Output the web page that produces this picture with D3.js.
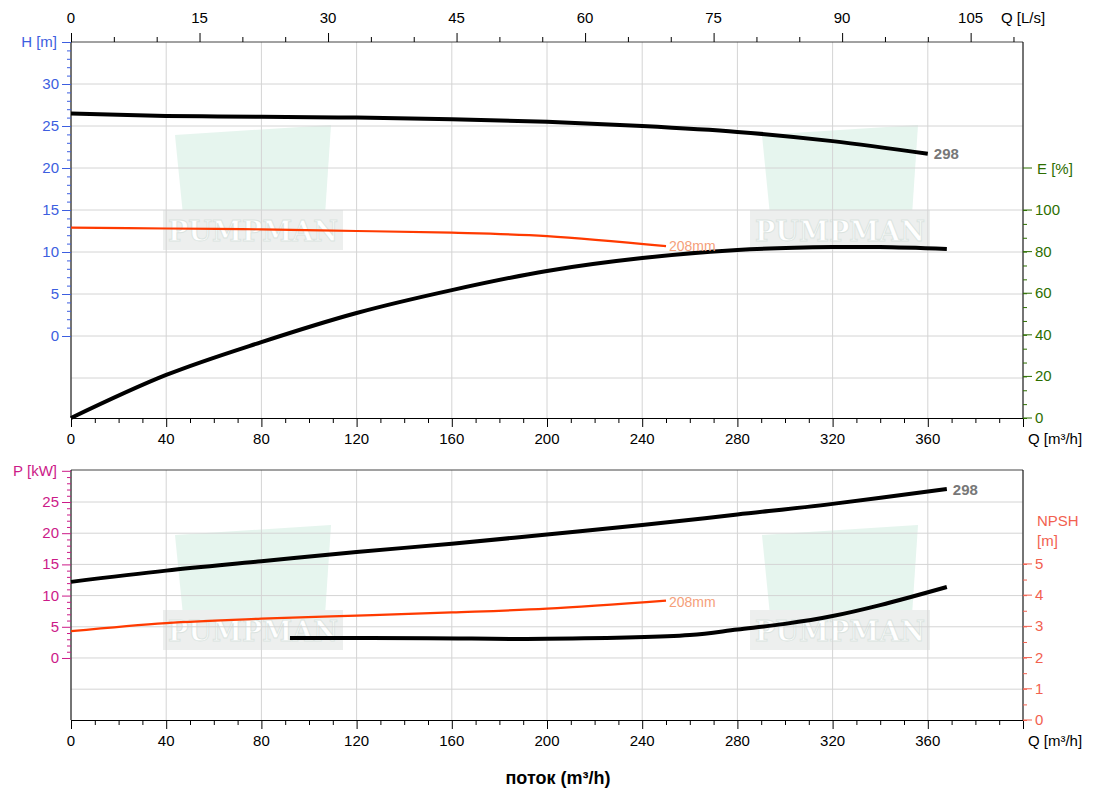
<!DOCTYPE html>
<html><head><meta charset="utf-8">
<script src="https://cdn.jsdelivr.net/npm/d3@7"></script>
<style>body{margin:0;background:#fff;font-family:Arial,"Liberation Sans",sans-serif}</style>
</head><body><svg id="c" width="1100" height="800"></svg>
<script>
const hQ=[0,40,80,120,160,200,240,280,320,360];
const h298=[26.5,26.2,26.1,26.0,25.8,25.5,25.0,24.3,23.2,21.7];
const h208Q=[0,40,80,120,160,200,250];
const h208=[12.9,12.8,12.7,12.5,12.3,11.9,10.7];
const effQ=[0,40,80,120,160,200,240,280,320,340,368];
const eff=[0,20.7,36.5,50.5,61.5,70.7,76.9,80.8,82.2,82.2,81.3];
const pQ=[0,40,80,120,160,200,240,280,320,368];
const p298=[12.2,14,15.5,17,18.3,19.8,21.3,23,24.7,27.1];
const p208Q=[0,40,80,120,160,200,250];
const p208=[4.3,5.6,6.3,6.8,7.3,7.9,9.2];
const npQ=[92,150,200,260,280,300,320,340,368];
const npsh=[2.63,2.62,2.6,2.72,2.9,3.08,3.33,3.68,4.26];
const qTicks=[0,40,80,120,160,200,240,280,320,360];
const lsTicks=[0,15,30,45,60,75,90,105];

const svg=d3.select("#c");
const L=71,R=1023,FS=15;
const x=d3.scaleLinear().domain([0,400]).range([L,R]);
const xls=d3.scaleLinear().domain([0,400/3.6]).range([L,R]);
const yH=d3.scaleLinear().domain([-9.76,35]).range([418,42]);
const yE=d3.scaleLinear().domain([0,180.8]).range([418,42]);
const yP=d3.scaleLinear().domain([-9.94,30.13]).range([720,470]);
const yN=d3.scaleLinear().domain([0,8.01]).range([720,470]);
const grid="#d4d4d4";

function wm(cx,cy){
  const g=svg.append("g").attr("opacity",0.6);
  g.append("path").attr("d",`M${cx-78},${cy-60} L${cx+78},${cy-70} L${cx+72},${cy+20} L${cx-70},${cy+20}Z`).attr("fill","#d6efe4");
  g.append("rect").attr("x",cx-90).attr("y",cy+15).attr("width",180).attr("height",40).attr("fill","#e2e6e4");
  g.append("text").attr("x",cx).attr("y",cy+46).attr("text-anchor","middle").attr("font-size",28).attr("font-weight","bold").attr("font-family","DejaVu Serif").attr("textLength",170).attr("lengthAdjust","spacingAndGlyphs").attr("fill","#fff").attr("stroke","#c4d2cc").attr("stroke-width",1).text("PUMPMAN");
}
[[253,195],[840,195],[253,595],[840,595]].forEach(d=>wm(d[0],d[1]));

function panel(yt,yb,ys,gridVals){
  const g=svg.append("g");
  qTicks.concat([400]).forEach(q=>g.append("line").attr("x1",x(q)).attr("x2",x(q)).attr("y1",yt).attr("y2",yb).attr("stroke",grid));
  gridVals.forEach(v=>g.append("line").attr("x1",L).attr("x2",R).attr("y1",ys(v)).attr("y2",ys(v)).attr("stroke",grid));
  g.append("line").attr("x1",L).attr("x2",R).attr("y1",yt).attr("y2",yt).attr("stroke","#444");
  const ax=svg.append("g").attr("transform",`translate(0,${yb})`).call(d3.axisBottom(x).tickValues(d3.range(0,401,10)).tickSize(5).tickFormat(""));
  ax.selectAll("line").filter(d=>d%40==0).attr("y2",9);
  ax.selectAll("path,line").attr("stroke","#000");
  qTicks.forEach(q=>svg.append("text").attr("x",x(q)).attr("y",yb+26).attr("text-anchor","middle").attr("font-size",FS).text(q));
  svg.append("text").attr("x",1055).attr("y",yb+26).attr("text-anchor","middle").attr("font-size",FS).text("Q [m³/h]");
}
panel(42,418,yH,[-5,0,5,10,15,20,25,30]);
panel(470,720,yP,[-5,0,5,10,15,20,25]);

const at=svg.append("g").attr("transform","translate(0,42)").call(d3.axisTop(xls).tickValues(d3.range(0,111,5)).tickSize(5).tickFormat(""));
at.selectAll("line").filter(d=>d%15==0).attr("y2",-9);
at.select("path").remove();
lsTicks.forEach(v=>svg.append("text").attr("x",xls(v)).attr("y",23).attr("text-anchor","middle").attr("font-size",FS).text(v));
svg.append("text").attr("x",1023).attr("y",23).attr("text-anchor","middle").attr("font-size",FS).text("Q [L/s]");

function leftAxis(ys,lo,hi,maj,col,label,yLab){
  const a=svg.append("g").attr("transform",`translate(${L},0)`).call(d3.axisLeft(ys).tickValues(d3.range(lo,hi+0.01,1)).tickSize(4).tickFormat(""));
  a.selectAll("line").filter(d=>d%5==0).attr("x2",-9);
  a.selectAll("path").attr("stroke","#000").attr("d",`M0,${ys.range()[0]}V${ys.range()[1]}`);
  a.selectAll("line").attr("stroke",col);
  maj.forEach(v=>svg.append("text").attr("x",L-12).attr("y",ys(v)+5).attr("text-anchor","end").attr("font-size",FS).attr("fill",col).text(v));
  svg.append("text").attr("x",L-14).attr("y",yLab+5).attr("text-anchor","end").attr("font-size",FS).attr("fill",col).text(label);
}
leftAxis(yH,0,35,[0,5,10,15,20,25,30],"#3d5ee0","H [m]",yH(35));
leftAxis(yP,0,30,[0,5,10,15,20,25],"#cc1a88","P [kW]",yP(30));

const eCol="#2d6e00";
const ea=svg.append("g").attr("transform",`translate(${R},0)`).call(d3.axisRight(yE).tickValues(d3.range(0,101,20/3)).tickSize(4).tickFormat(""));
ea.selectAll("line").attr("stroke",eCol);
ea.selectAll("path").attr("stroke","#000").attr("d",`M0,418V42`);
[0,20,40,60,80,100].forEach(v=>{svg.append("line").attr("x1",R).attr("x2",R+9).attr("y1",yE(v)).attr("y2",yE(v)).attr("stroke",eCol);
 svg.append("text").attr("x",R+12).attr("y",yE(v)+5).attr("font-size",FS).attr("fill",eCol).text(v);});
svg.append("line").attr("x1",R).attr("x2",R+9).attr("y1",168).attr("y2",168).attr("stroke",eCol);
svg.append("text").attr("x",R+14).attr("y",174).attr("font-size",FS).attr("fill",eCol).text("E [%]");

const nCol="#f2614f";
const na=svg.append("g").attr("transform",`translate(${R},0)`).call(d3.axisRight(yN).tickValues(d3.range(0,5.01,0.5)).tickSize(4).tickFormat(""));
na.selectAll("line").attr("stroke",nCol);
na.selectAll("path").attr("stroke","#000").attr("d",`M0,720V470`);
[0,1,2,3,4,5].forEach(v=>{svg.append("line").attr("x1",R).attr("x2",R+9).attr("y1",yN(v)).attr("y2",yN(v)).attr("stroke",nCol);
 svg.append("text").attr("x",R+12).attr("y",yN(v)+5).attr("font-size",FS).attr("fill",nCol).text(v);});
svg.append("text").attr("x",R+14).attr("y",526).attr("font-size",FS).attr("fill",nCol).text("NPSH");
svg.append("text").attr("x",R+14).attr("y",546).attr("font-size",FS).attr("fill",nCol).text("[m]");

function curve(xs,ys,ysc,col,w){
  svg.append("path").datum(xs.map((q,i)=>[q,ys[i]])).attr("fill","none").attr("stroke",col).attr("stroke-width",w)
   .attr("d",d3.line().x(d=>x(d[0])).y(d=>ysc(d[1])).curve(d3.curveCatmullRom));
}
curve(hQ,h298,yH,"#000",4);
curve(h208Q,h208,yH,"#ff3a00",2.2);
curve(effQ,eff,yE,"#000",4);
curve(pQ,p298,yP,"#000",4);
curve(p208Q,p208,yP,"#ff3a00",2.2);
curve(npQ,npsh,yN,"#000",4);
svg.append("text").attr("x",x(360)+6).attr("y",yH(21.7)+5).attr("font-size",FS).attr("font-weight","bold").attr("fill","#777").text("298");
svg.append("text").attr("x",x(368)+6).attr("y",yP(27.1)+6).attr("font-size",FS).attr("font-weight","bold").attr("fill","#777").text("298");
svg.append("text").attr("x",x(250)+3).attr("y",yH(10.7)+5).attr("font-size",14).attr("fill","#f5a07a").text("208mm");
svg.append("text").attr("x",x(250)+3).attr("y",yP(9.2)+6).attr("font-size",14).attr("fill","#f5a07a").text("208mm");
svg.append("text").attr("x",558).attr("y",784).attr("text-anchor","middle").attr("font-size",18).attr("font-weight","bold").text("поток (m³/h)");
</script></body></html>
